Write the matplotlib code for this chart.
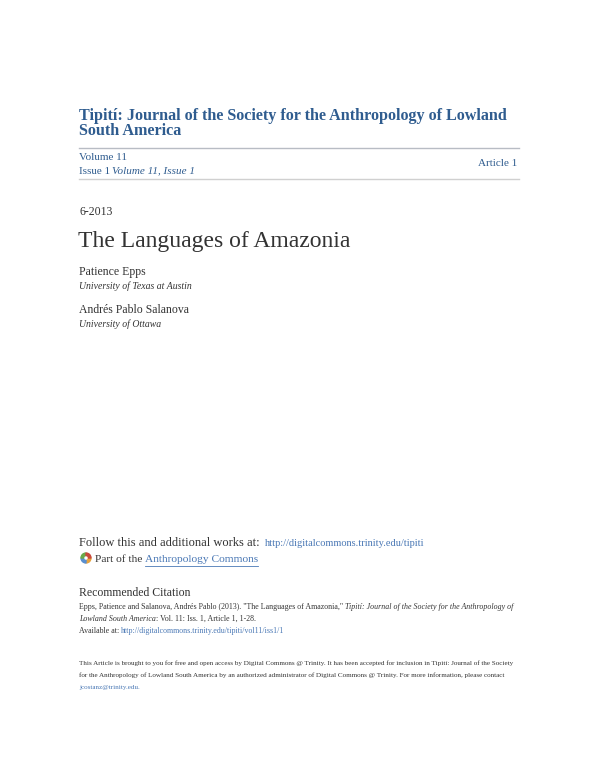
import matplotlib.pyplot as plt
from matplotlib.patches import Wedge

# page text content
journal_title = ["Tipití: Journal of the Society for the Anthropology of Lowland", "South America"]
volume = "Volume 11"
issue = "Issue 1"
issue_link = "Volume 11, Issue 1"
article = "Article 1"
date = "6-2013"
paper_title = "The Languages of Amazonia"
authors = ["Patience Epps", "Andrés Pablo Salanova"]
affiliations = ["University of Texas at Austin", "University of Ottawa"]
follow_text = "Follow this and additional works at:"
follow_url = "http://digitalcommons.trinity.edu/tipiti"
part_text = "Part of the"
part_link = "Anthropology Commons"
cit_plain1 = "Epps, Patience and Salanova, Andrés Pablo (2013). \"The Languages of Amazonia,\""
cit_italic1 = "Tipití: Journal of the Society for the Anthropology of"
cit_italic2 = "Lowland South America"
cit_rest = ": Vol. 11: Iss. 1, Article 1, 1-28."
avail_text = "Available at:"
avail_url = "http://digitalcommons.trinity.edu/tipiti/vol11/iss1/1"
footer = ["This Article is brought to you for free and open access by Digital Commons @ Trinity. It has been accepted for inclusion in Tipití: Journal of the Society",
          "for the Anthropology of Lowland South America by an authorized administrator of Digital Commons @ Trinity. For more information, please contact"]
footer_mail = "jcostanz@trinity.edu."

blue = "#2f5c8f"
link = "#4a78b5"
grey = "#333333"
plt.rcParams['font.family'] = ['Liberation Serif', 'DejaVu Serif']

fig = plt.figure(figsize=(6, 7.76), dpi=100)
ax = fig.add_axes([0, 0, 1, 1])
ax.set_xlim(0, 600)
ax.set_ylim(776, 0)
ax.axis('off')
renderer = fig.canvas.get_renderer()


def run(x, y, parts, size):
    # draw text pieces one after another on the same line, gap = a space
    gap = size * 0.28
    for s, color, style in parts:
        t = ax.text(x, y, s, fontsize=size, color=color, style=style, va='center')
        bb = t.get_window_extent(renderer)
        x = ax.transData.inverted().transform((bb.x1, bb.y0))[0] + gap
    return x - gap


ax.text(79, 116, journal_title[0], fontsize=11.6, weight='bold', color=blue, va='center')
ax.text(79, 131, journal_title[1], fontsize=11.6, weight='bold', color=blue, va='center')
ax.plot([79, 519], [148, 148], color='#b8bcc4', lw=1)
ax.plot([79, 519], [179, 179], color='#d0d0d0', lw=1)
ax.text(79, 157, volume, fontsize=8, color=blue, va='center')
run(79, 171, [(issue, blue, 'normal'), (issue_link, blue, 'italic')], 8)
ax.text(517, 164, article, fontsize=8, color=blue, va='center', ha='right')

ax.text(79, 212, date, fontsize=8.5, color=grey, va='center')
ax.text(78, 242, paper_title, fontsize=17, color=grey, va='center')
ax.text(79, 272, authors[0], fontsize=8.5, color=grey, va='center')
ax.text(79, 286, affiliations[0], fontsize=7, color=grey, style='italic', va='center')
ax.text(79, 310, authors[1], fontsize=8.5, color=grey, va='center')
ax.text(79, 324, affiliations[1], fontsize=7, color=grey, style='italic', va='center')

ax.text(79, 543, follow_text, fontsize=9.0, color=grey, va='center')
ax.text(265, 543, follow_url, fontsize=7.5, color=link, va='center')
for i, c in enumerate(['#e8a33c', '#5a8fcf', '#6aaa4a', '#c94a3c']):
    ax.add_patch(Wedge((86, 558), 5, 90 * i, 90 * (i + 1), width=2.5, color=c))
x0 = run(95, 560, [(part_text, grey, 'normal')], 8.2) + 8.2 * 0.28
x1 = run(x0, 560, [(part_link, link, 'normal')], 8.2)
ax.plot([x0, x1], [566, 566], color=link, lw=0.6)

ax.text(79, 593, "Recommended Citation", fontsize=8.5, color=grey, va='center')
run(79, 607, [(cit_plain1, grey, 'normal'), (cit_italic1, grey, 'italic')], 5.7)
x2 = run(79, 619, [(cit_italic2, grey, 'italic')], 5.7)
ax.text(x2, 619, cit_rest, fontsize=5.7, color=grey, va='center')
run(79, 631, [(avail_text, grey, 'normal'), (avail_url, link, 'normal')], 5.7)

ax.text(79, 663, footer[0], fontsize=5.15, color=grey, va='center')
ax.text(79, 675, footer[1], fontsize=5.15, color=grey, va='center')
ax.text(79, 687, footer_mail, fontsize=5.15, color=link, va='center')

fig.savefig("out.png", dpi=100, facecolor='white')
